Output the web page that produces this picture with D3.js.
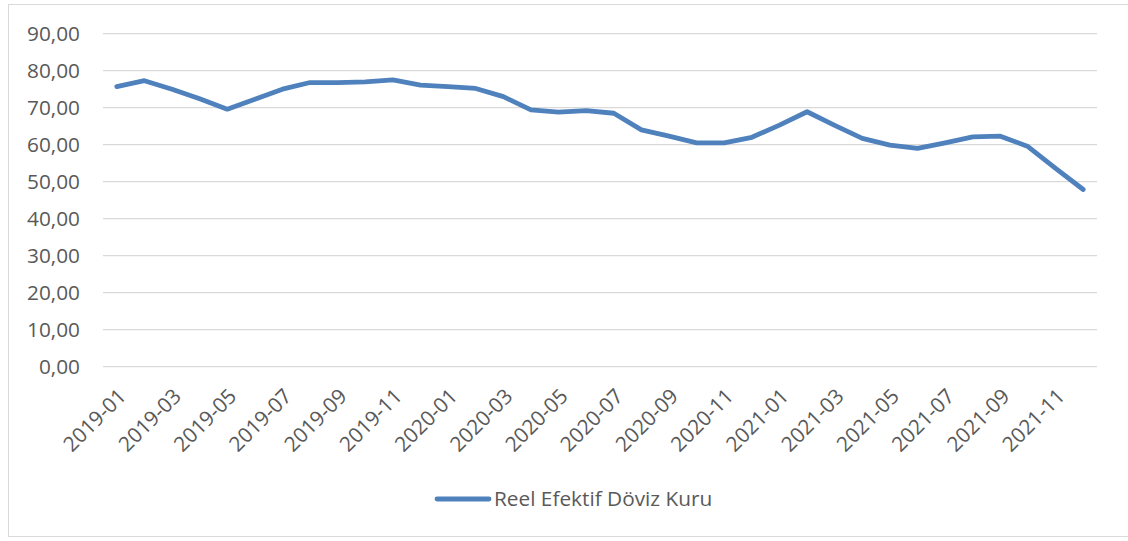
<!DOCTYPE html>
<html>
<head>
<meta charset="utf-8">
<script src="https://cdn.jsdelivr.net/npm/d3@7"></script>
<style>
  html, body { margin: 0; padding: 0; background: #fff; }
  svg { display: block; }
  text { font-family: "Open Sans", "Liberation Sans", sans-serif; fill: #595959; }
</style>
</head>
<body>
<svg id="chart" width="1128" height="541"></svg>
<script>
const months = [
  "2019-01","2019-02","2019-03","2019-04","2019-05","2019-06","2019-07","2019-08","2019-09","2019-10","2019-11","2019-12",
  "2020-01","2020-02","2020-03","2020-04","2020-05","2020-06","2020-07","2020-08","2020-09","2020-10","2020-11","2020-12",
  "2021-01","2021-02","2021-03","2021-04","2021-05","2021-06","2021-07","2021-08","2021-09","2021-10","2021-11","2021-12"
];
const reelEfektif = [
  75.7, 77.3, 75.0, 72.4, 69.6, 72.3, 75.0, 76.8, 76.8, 77.0, 77.5, 76.1,
  75.7, 75.2, 73.0, 69.4, 68.8, 69.2, 68.5, 64.0, 62.3, 60.5, 60.5, 62.0,
  65.3, 68.9, 65.2, 61.7, 59.9, 59.0, 60.5, 62.1, 62.3, 59.5, 53.6, 47.9
];
const yTicks = [0, 10, 20, 30, 40, 50, 60, 70, 80, 90];
const xTickLabels = months.filter((d, i) => i % 2 === 0);
const seriesName = "Reel Efektif Döviz Kuru";

const svg = d3.select("#chart");
const lineColor = "#4f81bd";
const fontSize = "20.8px";

// outer border
svg.append("rect")
  .attr("x", 8.5).attr("y", 4.5)
  .attr("width", 1130).attr("height", 532)
  .attr("fill", "none").attr("stroke", "#d9d9d9").attr("stroke-width", 1);

const plotLeft = 103, plotRight = 1097, plotTop = 33.7, plotBottom = 366.7;

const x = d3.scalePoint().domain(months).range([plotLeft, plotRight]).padding(0.5);
const y = d3.scaleLinear().domain([0, 90]).range([plotBottom, plotTop]);

// gridlines
svg.append("g")
  .selectAll("line")
  .data(yTicks)
  .join("line")
  .attr("x1", plotLeft).attr("x2", plotRight)
  .attr("y1", d => y(d)).attr("y2", d => y(d))
  .attr("stroke", "#d9d9d9").attr("stroke-width", 1.3);

// y axis labels
const yAxis = d3.axisLeft(y).tickValues(yTicks).tickSize(0).tickPadding(0)
  .tickFormat(d => d3.format(".2f")(d).replace(".", ","));
const gy = svg.append("g").attr("transform", `translate(80,0)`).call(yAxis);
gy.select(".domain").remove();
gy.selectAll("text")
  .style("font-family", '"Open Sans", "Liberation Sans", sans-serif')
  .style("font-size", fontSize).attr("fill", "#595959").attr("dy", "0.35em");

// x axis labels
const xAxis = d3.axisBottom(x).tickValues(xTickLabels).tickSize(0).tickPadding(0);
const gx = svg.append("g").attr("transform", `translate(0,${plotBottom})`).call(xAxis);
gx.select(".domain").remove();
gx.selectAll("text")
  .style("font-family", '"Open Sans", "Liberation Sans", sans-serif')
  .style("font-size", fontSize).attr("fill", "#595959")
  .attr("text-anchor", "end")
  .attr("dy", "0")
  .attr("y", 0)
  .attr("transform", "translate(10,31) rotate(-45)");

// line
const line = d3.line().x((d, i) => x(months[i])).y(d => y(d));
svg.append("path")
  .datum(reelEfektif)
  .attr("d", line)
  .attr("fill", "none")
  .attr("stroke", lineColor)
  .attr("stroke-width", 4.8)
  .attr("stroke-linejoin", "round")
  .attr("stroke-linecap", "round");

// legend
const lg = svg.append("g");
lg.append("line")
  .attr("x1", 437).attr("x2", 489).attr("y1", 499).attr("y2", 499)
  .attr("stroke", lineColor).attr("stroke-width", 4.8).attr("stroke-linecap", "round");
lg.append("text")
  .attr("x", 494).attr("y", 499).attr("dy", "0.35em")
  .style("font-size", fontSize)
  .text(seriesName);
</script>
</body>
</html>
